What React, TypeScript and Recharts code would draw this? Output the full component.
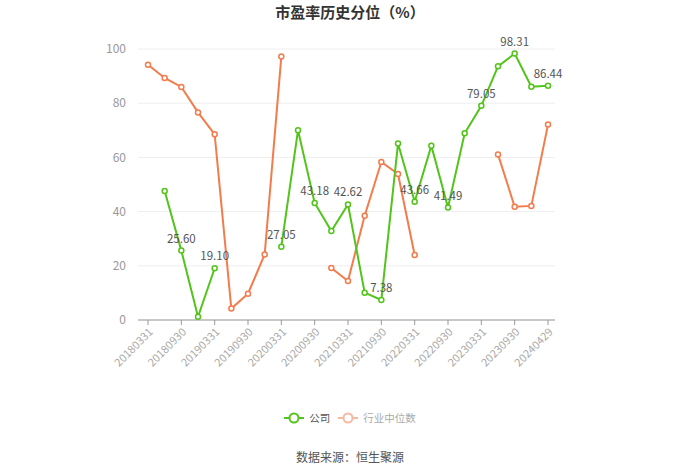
import React from 'react';
import { LineChart, Line, XAxis, YAxis, CartesianGrid } from 'recharts';

const categories = [
  '20180331', '20180630', '20180930', '20181231', '20190331', '20190630', '20190930', '20191231',
  '20200331', '20200630', '20200930', '20201231', '20210331', '20210630', '20210930', '20211231',
  '20220331', '20220630', '20220930', '20221231', '20230331', '20230630', '20230930', '20231231',
  '20240429',
];

const companyValues: (number | null)[] = [
  null, 47.6, 25.6, 1.2, 19.1, null, null, null,
  27.05, 70.0, 43.18, 32.8, 42.62, 10.1, 7.38, 65.1,
  43.66, 64.3, 41.49, 68.9, 79.05, 93.6, 98.31, 86.1,
  86.44,
];

const industryValues: (number | null)[] = [
  94.2, 89.3, 86.0, 76.6, 68.5, 4.2, 9.7, 24.2,
  97.2, null, null, 19.2, 14.4, 38.5, 58.3, 53.9,
  24.0, null, null, null, null, 61.1, 41.8, 42.1,
  72.1,
];

const yTicks = [0, 20, 40, 60, 80, 100];

const GREEN = '#52c41a';
const ORANGE = '#f47b4b';
const FONT = '"Noto Sans CJK SC", "Noto Sans", sans-serif';

const data = categories.map((c, i) => ({
  date: c,
  company: companyValues[i],
  industry: industryValues[i],
}));

const renderLabel = (props: any) => {
  const { x, y, value, index } = props;
  if (value === null || value === undefined || index % 2 !== 0) return null;
  return (
    <text x={x} y={y - 8} textAnchor="middle" fontSize={11.5} fill="#555" fontFamily={FONT}>
      {Number(value).toFixed(2)}
    </text>
  );
};

const XTick = (props: any) => {
  const { x, y, payload } = props;
  return (
    <g transform={`translate(${x},${y})`}>
      <text
        x={0}
        y={0}
        dy={8}
        textAnchor="end"
        fontSize={11}
        fill="#aaa"
        fontFamily={FONT}
        transform="rotate(-45)"
      >
        {payload.value}
      </text>
    </g>
  );
};

export default function App() {
  return (
    <div style={{ position: 'absolute', left: 0, top: 0, width: 700, height: 473, background: '#fff', fontFamily: FONT }}>
      <div
        style={{
          position: 'absolute', left: 0, top: 2, width: 700, textAlign: 'center',
          fontSize: 15, fontWeight: 'bold', color: '#333', lineHeight: '20px',
        }}
      >
        市盈率历史分位（%）
      </div>
      <LineChart
        width={700}
        height={473}
        data={data}
        margin={{ top: 49, right: 145, left: 0, bottom: 0 }}
      >
        <CartesianGrid vertical={false} stroke="#eeeeee" />
        <XAxis
          dataKey="date"
          interval={1}
          height={153}
          padding={{ left: 10, right: 7 }}
          tick={<XTick />}
          tickLine={{ stroke: '#999' }}
          tickSize={5}
          axisLine={{ stroke: '#999' }}
        />
        <YAxis
          width={138}
          domain={[0, 100]}
          ticks={yTicks}
          axisLine={false}
          tickLine={false}
          tick={{ fontSize: 12, fill: '#999', fontFamily: FONT }}
          tickMargin={6}
        />
        <Line
          type="linear"
          dataKey="industry"
          stroke={ORANGE}
          strokeWidth={2}
          dot={{ r: 2.5, fill: '#fff', stroke: ORANGE, strokeWidth: 1.5 }}
          activeDot={false}
          isAnimationActive={false}
        />
        <Line
          type="linear"
          dataKey="company"
          stroke={GREEN}
          strokeWidth={2}
          dot={{ r: 2.5, fill: '#fff', stroke: GREEN, strokeWidth: 1.5 }}
          activeDot={false}
          label={renderLabel}
          isAnimationActive={false}
        />
      </LineChart>
      <div style={{ position: 'absolute', left: 0, top: 410, width: 700, display: 'flex', justifyContent: 'center', alignItems: 'center', fontSize: 10.5, gap: 8 }}>
        <div style={{ display: 'flex', alignItems: 'center', gap: 5, color: '#555' }}>
          <svg width={20} height={14}>
            <line x1={0} y1={7} x2={20} y2={7} stroke={GREEN} strokeWidth={2} />
            <circle cx={10} cy={7} r={4.5} fill="#fff" stroke={GREEN} strokeWidth={2} />
          </svg>
          <span>公司</span>
        </div>
        <div style={{ display: 'flex', alignItems: 'center', gap: 5, color: '#aaa' }}>
          <svg width={20} height={14}>
            <line x1={0} y1={7} x2={20} y2={7} stroke="#f7b8a0" strokeWidth={2} />
            <circle cx={10} cy={7} r={4.5} fill="#fff" stroke="#f7b8a0" strokeWidth={2} />
          </svg>
          <span>行业中位数</span>
        </div>
      </div>
      <div style={{ position: 'absolute', left: 0, top: 448, width: 700, textAlign: 'center', fontSize: 12, color: '#555', lineHeight: '18px' }}>
        数据来源：恒生聚源
      </div>
    </div>
  );
}
